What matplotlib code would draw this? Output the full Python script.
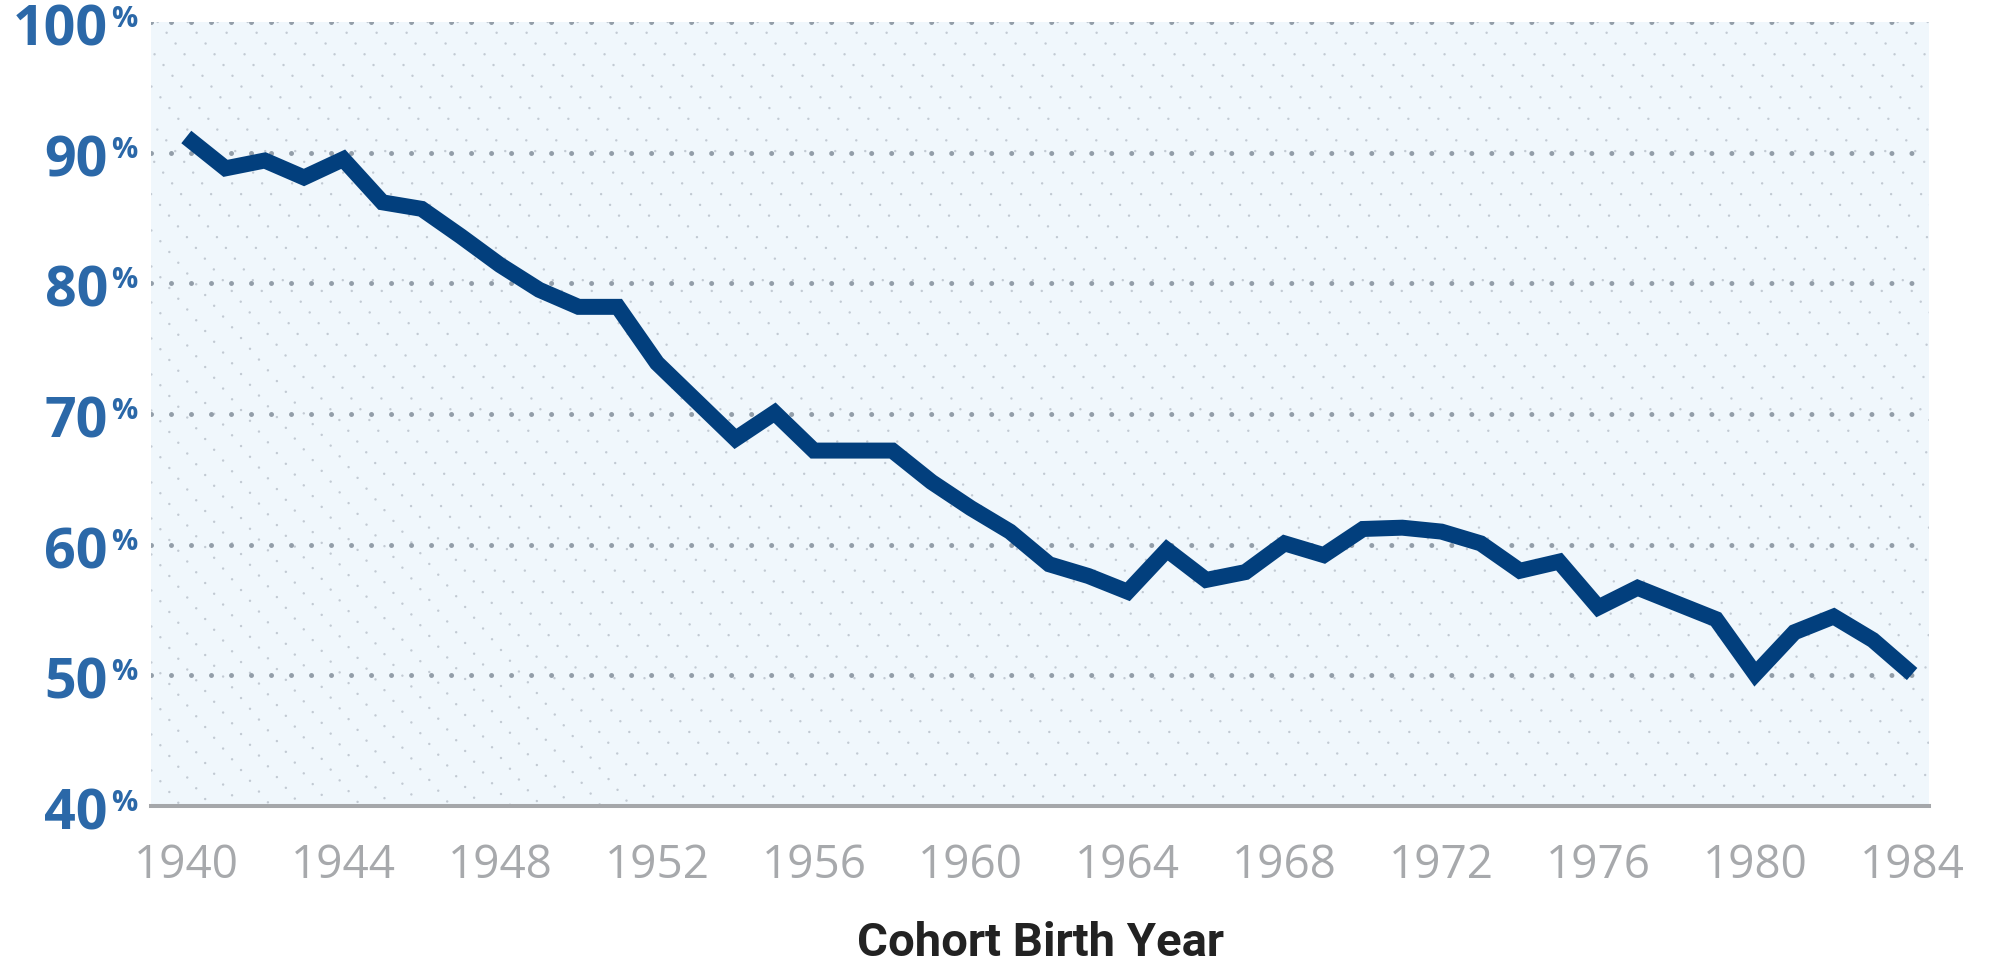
import matplotlib
matplotlib.use("Agg")
import matplotlib.pyplot as plt
import numpy as np

# cohort share by birth year (%)
years = list(range(1940, 1985))
share = [91.2, 88.8, 89.4, 88.1, 89.5, 86.2, 85.7, 83.6, 81.4, 79.5,
         78.2, 78.2, 73.9, 71.0, 68.1, 70.1, 67.2, 67.2, 67.2, 64.8,
         62.8, 61.0, 58.5, 57.6, 56.4, 59.6, 57.3, 57.9, 60.1, 59.2,
         61.2, 61.3, 61.0, 60.1, 58.0, 58.7, 55.2, 56.7, 55.5, 54.3,
         50.1, 53.3, 54.5, 52.7, 50.1]

y_ticks = [40, 50, 60, 70, 80, 90, 100]
x_ticks = list(range(1940, 1985, 4))

navy = "#023f7d"
blue = "#2b68a8"
grid_grey = "#939ea9"

W, H = 1992, 965
fig = plt.figure(figsize=(W / 100, H / 100), dpi=100)
ax_l, ax_b, ax_r, ax_t = 151, 806, 1929, 22
ax = fig.add_axes([ax_l / W, 1 - ax_b / H, (ax_r - ax_l) / W, (ax_b - ax_t) / H])
ax.set_facecolor("#f0f7fc")

# diagonal dotted texture
aw, ah = ax_r - ax_l, ax_b - ax_t
slope = 1.2
run = ah / slope
for x0 in np.arange(-run, aw + 30, 30):
    ax.plot([x0 / aw, (x0 + run) / aw], [1, 0], transform=ax.transAxes,
            color="#c2cad3", lw=1.8, linestyle=(0, (0.001, 5.6)),
            dash_capstyle="round", zorder=0.5)

# dotted gridlines
for v in y_ticks[1:]:
    ax.axhline(v, color=grid_grey, lw=3.6, linestyle=(0, (0.001, 4.0)),
               dash_capstyle="round", zorder=1)

ax.plot(years, share, color=navy, lw=11.5, solid_joinstyle="miter",
        solid_capstyle="butt", zorder=3)

ax.set_xlim(1939.1, 1984.43)
ax.set_ylim(40, 100)

for s in ["left", "right", "top"]:
    ax.spines[s].set_visible(False)
ax.spines["bottom"].set_color("#a5a7aa")
ax.spines["bottom"].set_linewidth(2.9)
ax.spines["bottom"].set_zorder(4)

ax.set_xticks(x_ticks)
ax.set_xticklabels([str(x) for x in x_ticks], fontfamily="Open Sans",
                   fontsize=33, color="#a7a9ac")
ax.tick_params(axis="x", length=0, pad=27)

ax.set_yticks(y_ticks)
ax.set_yticklabels([])
ax.tick_params(axis="y", length=0)
for v in y_ticks:
    ax.annotate(str(v), xy=(0, v), xycoords=("axes fraction", "data"),
                xytext=(-31, -17), textcoords="offset points",
                ha="right", va="baseline", fontsize=40, fontweight="bold",
                fontfamily="Open Sans", color=blue, annotation_clip=False)
    ax.annotate("%", xy=(0, v), xycoords=("axes fraction", "data"),
                xytext=(-29, -3.6), textcoords="offset points",
                ha="left", va="baseline", fontsize=21, fontweight="bold",
                fontfamily="Open Sans", color=blue, annotation_clip=False)

fig.text((ax_l + ax_r) / 2 / W, 9 / H, "Cohort Birth Year", ha="center",
         va="baseline", fontsize=34, fontweight="bold", fontfamily="Roboto",
         color="#222222")

fig.savefig("out.png", dpi=100)
